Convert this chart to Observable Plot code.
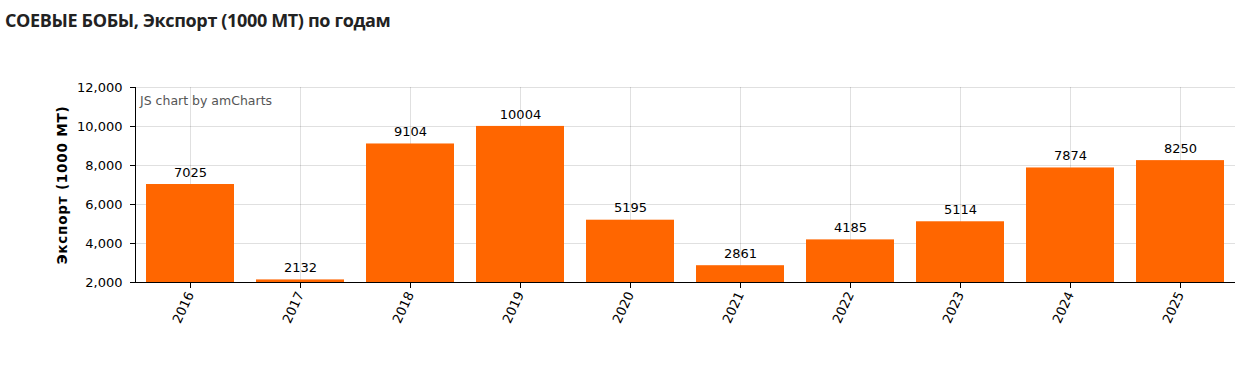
<!DOCTYPE html>
<html><head><meta charset="utf-8">
<script src="https://cdn.jsdelivr.net/npm/d3@7"></script>
<script src="https://cdn.jsdelivr.net/npm/@observablehq/plot@0.6"></script>
<style>
body{margin:0;background:#fff;}
#title{height:40px;box-sizing:border-box;padding:8px 0 0 5px;font:bold 18px "Open Sans",sans-serif;color:#222;letter-spacing:-0.35px;}
#chart{position:relative;}
#credit{position:absolute;left:140px;top:53px;font:12.5px "DejaVu Sans",sans-serif;color:#555;}
</style></head>
<body>
<div id="title">СОЕВЫЕ БОБЫ, Экспорт (1000 МТ) по годам</div>
<div id="chart"><div id="credit">JS chart by amCharts</div></div>
<script>
const years = ["2016","2017","2018","2019","2020","2021","2022","2023","2024","2025"];
const exports = [7025, 2132, 9104, 10004, 5195, 2861, 4185, 5114, 7874, 8250];
const yTicks = [2000, 4000, 6000, 8000, 10000, 12000];
const yLabel = "Экспорт (1000 МТ)";

const data = years.map((y, i) => ({year: y, value: exports[i]}));
const fmt = d3.format(",");

const plot = Plot.plot({
  width: 1249,
  height: 335,
  marginTop: 47,
  marginBottom: 93,
  marginLeft: 135,
  marginRight: 14,
  style: {fontFamily: "'DejaVu Sans', sans-serif", fontSize: "13px", color: "#000", background: "#fff"},
  x: {domain: years, paddingInner: 0.2, paddingOuter: 0.1, label: null},
  y: {domain: [2000, 12000], label: null},
  marks: [
    Plot.gridY(yTicks, {stroke: "#000", strokeOpacity: 0.12}),
    Plot.gridX(years, {stroke: "#000", strokeOpacity: 0.12}),
    Plot.barY(data, {x: "year", y1: 2000, y2: "value", fill: "#FF6600"}),
    Plot.text(data, {x: "year", y: "value", text: d => String(d.value), dy: -12, fontSize: 13, fill: "#000"}),
    Plot.axisY({ticks: yTicks, tickFormat: fmt, tickSize: 5, tickPadding: 8, label: null, fontSize: 13}),
    Plot.axisX({tickRotate: -65, label: null, fontSize: 13, tickSize: 6, tickPadding: 4}),
    Plot.ruleY([2000], {stroke: "#000"})
  ]
});
document.getElementById("chart").appendChild(plot);

// y axis line and title
const svg = d3.select(plot);
svg.append("line").attr("x1", 135.5).attr("x2", 135.5).attr("y1", 47).attr("y2", 242).attr("stroke", "#000");
svg.append("text")
  .attr("transform", "translate(67,145) rotate(-90)")
  .attr("text-anchor", "middle")
  .attr("font-weight", "bold")
  .attr("font-size", 13.5)
  .attr("letter-spacing", 0.8)
  .attr("font-family", "'DejaVu Sans', sans-serif")
  .text(yLabel);
</script>
</body></html>
